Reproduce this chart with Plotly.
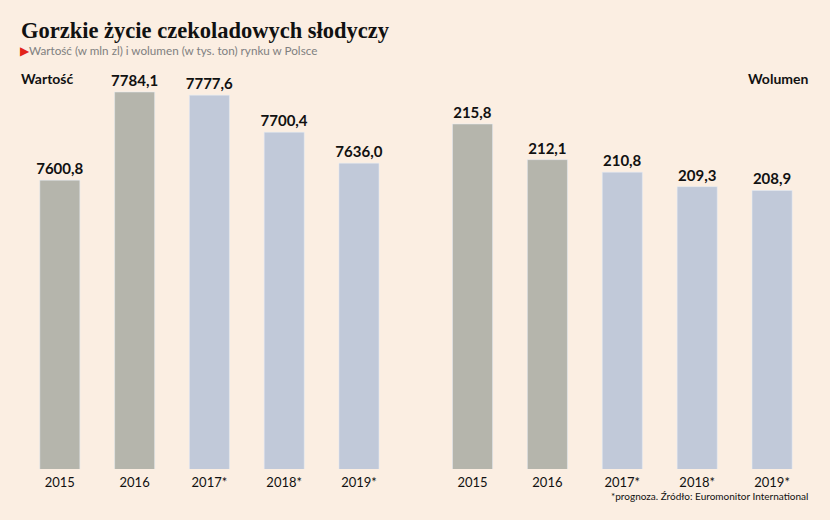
import plotly.graph_objects as go

years = ["2015", "2016", "2017*", "2018*", "2019*"]
wartosc = [7600.8, 7784.1, 7777.6, 7700.4, 7636.0]
wolumen = [215.8, 212.1, 210.8, 209.3, 208.9]
colors = ["#b5b5ac", "#b5b5ac", "#c1c9d9", "#c1c9d9", "#c1c9d9"]

def fmt(v):
    return f"{v:.1f}".replace(".", ",")

W, H = 830, 520
bottom_px = 469
left_scale = 377 / (7784.1 - 7000)
right_scale = 345 / (215.8 - 180)
BG = "#fbeee2"

fig = go.Figure()
fig.add_trace(go.Bar(
    x=years, y=wartosc, marker_color=colors, width=0.535,
    text=[fmt(v) for v in wartosc], textposition="outside",
    texttemplate="<b>%{text}</b>", constraintext="none",
    textfont=dict(family="Lato", size=15, color="#111111"),
    cliponaxis=False, xaxis="x", yaxis="y", showlegend=False))
fig.add_trace(go.Bar(
    x=years, y=wolumen, marker_color=colors, width=0.535,
    text=[fmt(v) for v in wolumen], textposition="outside",
    texttemplate="<b>%{text}</b>", constraintext="none",
    textfont=dict(family="Lato", size=15, color="#111111"),
    cliponaxis=False, xaxis="x2", yaxis="y2", showlegend=False))

ydom = [(H - bottom_px) / H, 1]
fig.update_layout(
    width=W, height=H,
    margin=dict(l=0, r=0, t=0, b=0),
    paper_bgcolor=BG, plot_bgcolor=BG,
    font=dict(family="Lato", color="#111111"),
    xaxis=dict(domain=[0, 418.8 / W], range=[-0.8, 4.8], showgrid=False,
               showline=False, ticks="", ticklabelstandoff=4,
               tickfont=dict(size=13, family="Lato", color="#111")),
    yaxis=dict(domain=ydom, range=[7000, 7000 + bottom_px / left_scale], visible=False),
    xaxis2=dict(domain=[420.1 / W, 824.5 / W], range=[-0.7, 4.7], showgrid=False,
                showline=False, ticks="", ticklabelstandoff=4,
                tickfont=dict(size=13, family="Lato", color="#111"),
                anchor="y2"),
    yaxis2=dict(domain=ydom, range=[180, 180 + bottom_px / right_scale], visible=False,
                anchor="x2"),
    bargap=0.3,
)

ann = [
    dict(text="<b>Gorzkie życie czekoladowych słodyczy</b>", x=19 / W, y=1 - 30 / H,
         xanchor="left", yanchor="middle",
         font=dict(family="Liberation Serif", size=22.5, color="#111111")),
    dict(text="<span style='color:#e2231a'>▶</span>Wartość (w mln zl) i wolumen (w tys. ton) rynku w Polsce",
         x=18 / W, y=1 - 50 / H, xanchor="left", yanchor="middle",
         font=dict(family="Lato", size=11.7, color="#808080")),
    dict(text="<b>Wartość</b>", x=19 / W, y=1 - 78 / H, xanchor="left", yanchor="middle",
         font=dict(family="Lato", size=14, color="#111111")),
    dict(text="<b>Wolumen</b>", x=810 / W, y=1 - 78 / H, xanchor="right", yanchor="middle",
         font=dict(family="Lato", size=14, color="#111111")),
    dict(text="*prognoza. Źródło: Euromonitor International", x=810 / W, y=1 - 496 / H,
         xanchor="right", yanchor="middle",
         font=dict(family="Lato", size=10, color="#111111")),
]
for a in ann:
    a.update(xref="paper", yref="paper", showarrow=False)
fig.update_layout(annotations=ann)

fig.write_html(
    "out.html",
    config={"displayModeBar": False},
    post_script=(
        "document.body.style.margin='0';"
        "document.body.style.overflow='hidden';"
        f"document.body.style.background='{BG}';"
    ),
)
